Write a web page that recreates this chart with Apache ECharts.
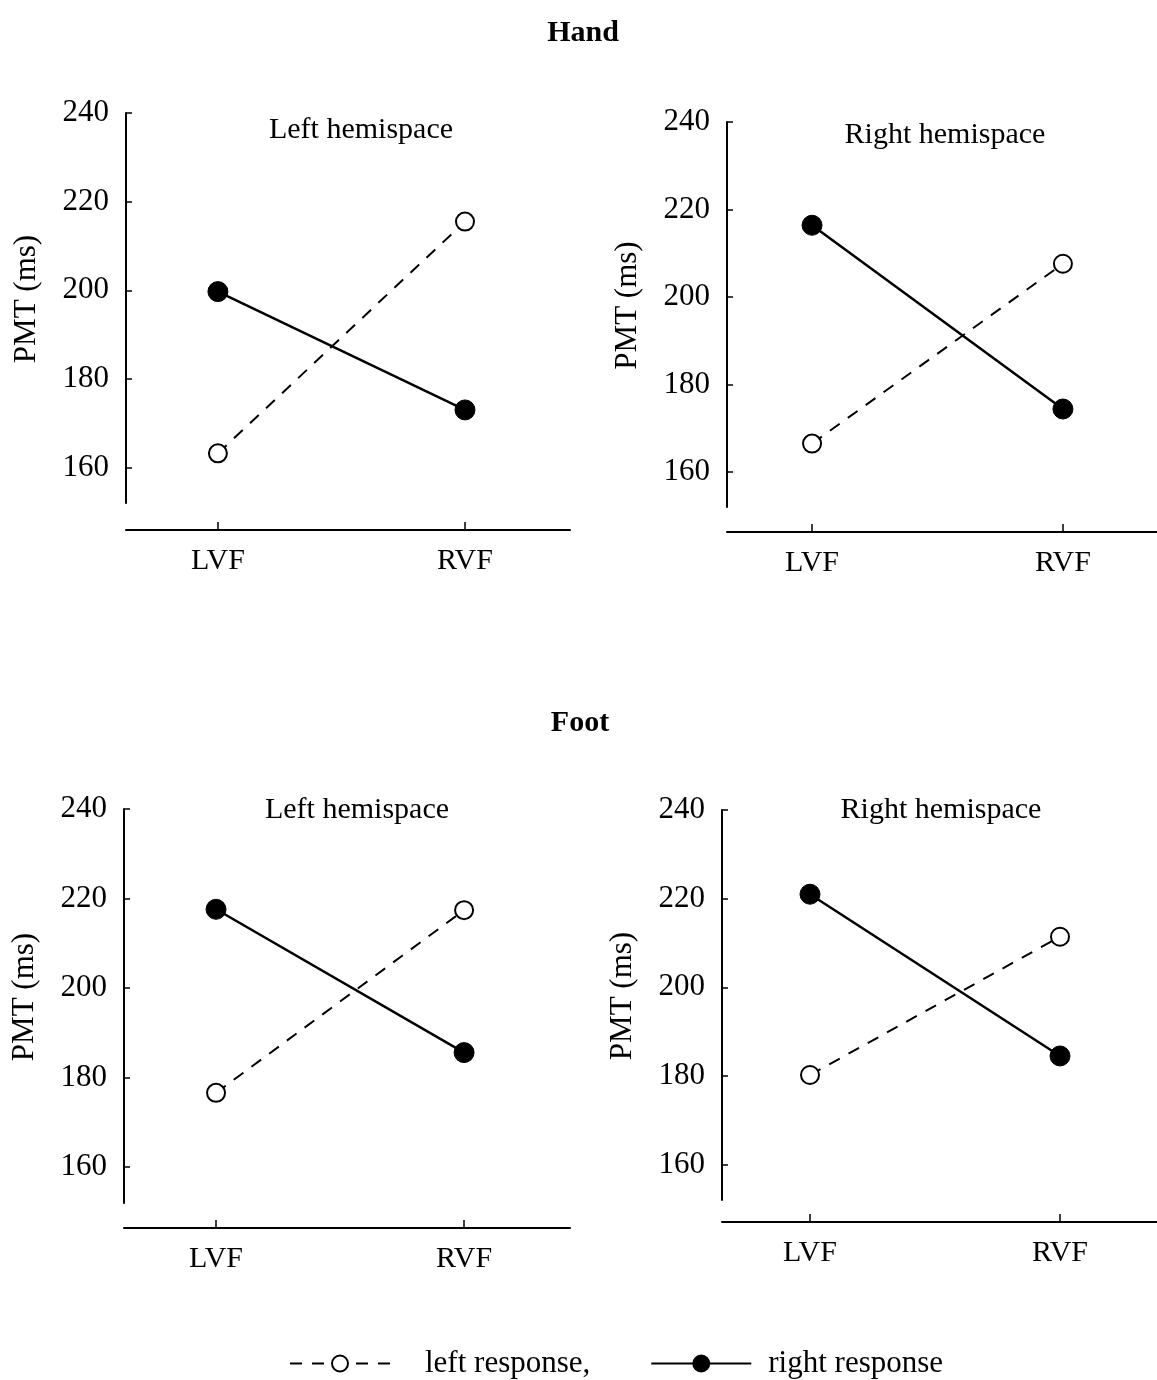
<!DOCTYPE html>
<html>
<head>
<meta charset="utf-8">
<script src="https://cdn.jsdelivr.net/npm/echarts@6/dist/echarts.min.js"></script>
<style>
  html, body { margin: 0; padding: 0; background: #fff; }
  #chart { width: 1157px; height: 1380px; }
</style>
</head>
<body>
<div id="chart"></div>
<script>
var categories = ['LVF', 'RVF'];
var yTicks = [160, 180, 200, 220, 240];
var panelTitles = ['Left hemispace', 'Right hemispace', 'Left hemispace', 'Right hemispace'];
var seriesNames = ['left response', 'right response'];

// open circles (left response), filled circles (right response)
var handLeftOpen = [163.2, 215.5];
var handLeftFilled = [199.7, 173.0];
var handRightOpen = [166.5, 207.6];
var handRightFilled = [216.4, 174.4];
var footLeftOpen = [176.6, 217.4];
var footLeftFilled = [217.6, 185.6];
var footRightOpen = [180.2, 211.4];
var footRightFilled = [221.0, 184.5];

var openData = [handLeftOpen, handRightOpen, footLeftOpen, footRightOpen];
var filledData = [handLeftFilled, handRightFilled, footLeftFilled, footRightFilled];

// layout of each panel (pixels)
var grids = [
    {left: 126, top: 113, width: 444, height: 390, offset: 27, xmin: -0.372, xmax: 1.425},
    {left: 727, top: 122, width: 430, height: 385, offset: 25, xmin: -0.339, xmax: 1.375},
    {left: 124, top: 809, width: 446, height: 394, offset: 25, xmin: -0.371, xmax: 1.427},
    {left: 722, top: 810, width: 435, height: 390, offset: 22, xmin: -0.352, xmax: 1.388}
];
var titlePos = [[356, 110], [940, 115], [352, 790], [936, 790]];

var font = '"Liberation Serif", "Times New Roman", serif';

function toPoints(arr) {
    return arr.map(function (v, i) { return [i, v]; });
}

var chart = echarts.init(document.getElementById('chart'), null, {renderer: 'canvas'});

var option = {
    backgroundColor: '#fff',
    animation: false,
    textStyle: {fontFamily: font, color: '#000'},
    title: [
        {text: 'Hand', left: 578, top: 13, textAlign: 'center',
            textStyle: {fontFamily: font, fontWeight: 'bold', fontSize: 30, color: '#000'}},
        {text: 'Foot', left: 575, top: 703, textAlign: 'center',
            textStyle: {fontFamily: font, fontWeight: 'bold', fontSize: 30, color: '#000'}}
    ],
    legend: {
        top: 1343,
        left: 284,
        itemWidth: 100,
        itemHeight: 20,
        itemGap: 60,
        data: [
            {name: seriesNames[0], textStyle: {padding: [0, 0, 0, 30]}},
            {name: seriesNames[1], textStyle: {padding: [0, 0, 0, 12]}}
        ],
        formatter: function (name) { return name === seriesNames[0] ? name + ',' : name; },
        textStyle: {fontFamily: font, fontSize: 31, color: '#000'}
    },
    grid: [],
    xAxis: [],
    yAxis: [],
    series: []
};

grids.forEach(function (g, i) {
    option.title.push({
        text: panelTitles[i], left: titlePos[i][0], top: titlePos[i][1], textAlign: 'center',
        textStyle: {fontFamily: font, fontWeight: 'normal', fontSize: 30, color: '#000'}
    });
    option.grid.push({left: g.left, top: g.top, width: g.width, height: g.height});
    option.xAxis.push({
        type: 'value', gridIndex: i, min: g.xmin, max: g.xmax, offset: g.offset,
        splitLine: {show: false},
        axisLine: {show: true, onZero: false, lineStyle: {color: '#000', width: 2}},
        axisTick: {show: true, inside: true, length: 8, customValues: [0, 1], lineStyle: {color: '#000', width: 1.5}},
        axisLabel: {
            customValues: [0, 1], margin: 16, fontFamily: font, fontSize: 30, color: '#000',
            formatter: function (v) { return categories[Math.round(v)]; }
        }
    });
    option.yAxis.push({
        type: 'value', gridIndex: i, min: 152, max: 240,
        name: 'PMT (ms)', nameLocation: 'middle', nameRotate: 90, nameGap: 84,
        nameTextStyle: {fontFamily: font, fontSize: 31, color: '#000', padding: [0, 0, 0, 18]},
        splitLine: {show: false},
        axisLine: {show: true, onZero: false, lineStyle: {color: '#000', width: 2}},
        axisTick: {show: true, inside: true, length: 6, customValues: yTicks, lineStyle: {color: '#000', width: 1.5}},
        axisLabel: {customValues: yTicks, margin: 17, fontFamily: font, fontSize: 31, color: '#000'}
    });
    option.series.push({
        name: seriesNames[0], type: 'line', xAxisIndex: i, yAxisIndex: i,
        data: toPoints(openData[i]),
        symbol: 'circle', symbolSize: 18,
        lineStyle: {color: '#000', width: 2, type: [12, 10]},
        itemStyle: {color: '#fff', borderColor: '#000', borderWidth: 2},
        z: 2
    });
    option.series.push({
        name: seriesNames[1], type: 'line', xAxisIndex: i, yAxisIndex: i,
        data: toPoints(filledData[i]),
        symbol: 'circle', symbolSize: 20,
        lineStyle: {color: '#000', width: 2.5},
        itemStyle: {color: '#000', borderColor: '#000', borderWidth: 1},
        z: 3
    });
});

chart.setOption(option);
</script>
</body>
</html>
